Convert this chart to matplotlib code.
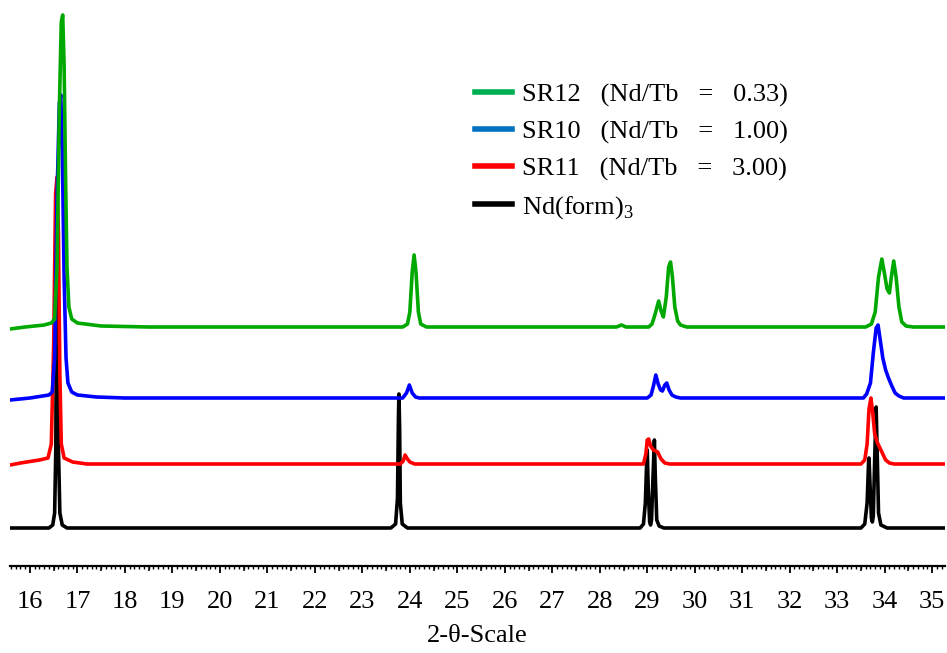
import matplotlib.pyplot as plt
from matplotlib.ticker import MultipleLocator
from matplotlib.lines import Line2D

plt.rcParams['font.family'] = ['Liberation Serif', 'DejaVu Serif']
plt.rcParams['mathtext.fontset'] = 'custom'
plt.rcParams['mathtext.rm'] = 'Liberation Serif'

# XRD patterns: 2-theta and intensity above each trace's own baseline
nd_x = [15.58, 16.40, 16.48, 16.52, 16.545, 16.56, 16.57, 16.585, 16.60, 16.63, 16.68, 16.78,
        23.60, 23.70, 23.74, 23.76, 23.77, 23.785, 23.80, 23.84, 23.95,
        28.85, 28.92, 28.96, 28.99, 29.00, 29.02, 29.05, 29.07, 29.09, 29.12, 29.15, 29.17, 29.20, 29.25, 29.35,
        33.50, 33.58, 33.63, 33.66, 33.67, 33.69, 33.72, 33.74, 33.76, 33.79, 33.82, 33.84, 33.87, 33.92, 34.05, 35.27]
nd_y = [0, 0, 3, 15, 80, 250, 325, 250, 80, 15, 3, 0,
        0, 4, 30, 110, 134, 100, 25, 4, 0,
        0, 4, 25, 70, 78, 40, 6, 3, 8, 50, 88, 50, 8, 2, 0,
        0, 4, 25, 65, 70, 45, 10, 6, 12, 70, 121, 80, 15, 3, 0, 0]

sr11_x = [15.58, 15.80, 16.20, 16.38, 16.45, 16.50, 16.54, 16.57, 16.60, 16.63, 16.66, 16.72, 16.90, 17.20,
          23.80, 23.86, 23.90, 23.95, 24.00, 24.10,
          28.92, 28.97, 29.00, 29.03, 29.07, 29.13, 29.22, 29.29, 29.37, 29.47,
          33.50, 33.58, 33.63, 33.67, 33.71, 33.75, 33.79, 33.84, 33.90, 33.96, 34.02, 34.10, 34.20, 35.27]
sr11_y = [-1, 1, 4, 6, 20, 120, 270, 287, 230, 90, 20, 6, 2, 0,
          0, 3, 9, 5, 2, 0,
          0, 10, 24, 25, 18, 14, 12, 5, 1, 0,
          0, 4, 20, 55, 66, 50, 30, 22, 16, 10, 4, 1, 0, 0]

sr10_x = [15.58, 16.00, 16.40, 16.47, 16.52, 16.57, 16.62, 16.65, 16.68, 16.72, 16.76, 16.80, 16.88, 17.00, 17.40, 18.00,
          23.85, 23.93, 23.99, 24.05, 24.12, 24.20,
          29.00, 29.08, 29.13, 29.18, 29.23, 29.28, 29.32, 29.37, 29.41, 29.46, 29.52, 29.60, 29.70,
          33.55, 33.62, 33.70, 33.76, 33.82, 33.86, 33.90, 33.96, 34.02, 34.08, 34.15, 34.22, 34.30, 34.40, 35.27]
sr10_y = [-2, 0, 3, 6, 40, 200, 295, 303, 250, 120, 40, 15, 6, 3, 1, 0,
          0, 5, 13, 5, 1, 0,
          0, 3, 12, 23, 14, 8, 7, 13, 15, 8, 3, 1, 0,
          0, 4, 15, 45, 70, 73, 60, 40, 28, 20, 12, 5, 2, 0, 0]

sr12_x = [15.58, 15.90, 16.30, 16.45, 16.52, 16.57, 16.62, 16.66, 16.69, 16.72, 16.75, 16.78, 16.82, 16.88, 17.00, 17.50, 18.50,
          23.85, 23.95, 24.00, 24.05, 24.09, 24.13, 24.18, 24.23, 24.35,
          28.35, 28.46, 28.55,
          29.03, 29.10, 29.16, 29.24, 29.29, 29.34, 29.40, 29.45, 29.49, 29.53, 29.58, 29.64, 29.70, 29.83,
          33.60, 33.72, 33.80, 33.87, 33.94, 33.99, 34.05, 34.10, 34.14, 34.19, 34.24, 34.30, 34.36, 34.45, 34.60, 35.27]
sr12_y = [-2, 0, 2, 4, 8, 60, 220, 305, 312, 260, 150, 60, 20, 8, 4, 1, 0,
          0, 3, 15, 55, 72, 55, 15, 3, 0,
          0, 2, 0,
          0, 3, 12, 26, 16, 10, 30, 60, 65, 50, 20, 6, 2, 0,
          0, 3, 15, 50, 68, 55, 38, 34, 50, 66, 50, 20, 5, 1, 0, 0]

offsets = [0, 64, 130, 201]
line_colors = ['black', '#ff0000', '#0000ff', '#00a800']
legend_colors = ['#00b050', '#0070c0', '#ff0000', 'black']
legend_labels = ['SR12   (Nd/Tb   =   0.33)', 'SR10   (Nd/Tb   =   1.00)',
                 'SR11   (Nd/Tb   =   3.00)', 'Nd(form)$_3$']

fig = plt.figure(figsize=(9.47, 6.53), dpi=100)
ax = fig.add_axes([10 / 947, 87 / 653, 935 / 947, 566 / 653])

series = [(nd_x, nd_y), (sr11_x, sr11_y), (sr10_x, sr10_y), (sr12_x, sr12_y)]
for (xs, ys), off, c in zip(series, offsets, line_colors):
    ax.plot(xs, [v + off for v in ys], color=c, lw=2.6, solid_joinstyle='round')

ax.set_xlim(15.58, 35.27)
ax.set_ylim(-38, 528)
for s in ['left', 'right', 'top']:
    ax.spines[s].set_visible(False)
ax.spines['bottom'].set_linewidth(1.6)
ax.set_yticks([])
ax.xaxis.set_major_locator(MultipleLocator(1))
ax.xaxis.set_minor_locator(MultipleLocator(0.1))
ax.tick_params(axis='x', which='major', length=5, width=1.3, labelsize=19, pad=13)
ax.tick_params(axis='x', which='minor', length=2.2, width=1.0)
ax.set_xlabel('2-θ-Scale', fontsize=19, labelpad=9)

# medium ticks at the half degrees
ax2 = ax.twiny()
ax2.set_xlim(ax.get_xlim())
ax2.xaxis.set_ticks_position('bottom')
ax2.xaxis.set_major_locator(MultipleLocator(1, offset=0.5))
ax2.tick_params(axis='x', which='major', length=3.6, width=1.1, labelbottom=False, labeltop=False)
ax2.set_yticks([])
for s in ax2.spines.values():
    s.set_visible(False)

handles = [Line2D([], [], color=c, lw=4) for c in legend_colors]
ax.legend(handles, legend_labels, loc='upper left', bbox_to_anchor=(0.472, 0.896),
          frameon=False, fontsize=19, handlelength=1.4, handletextpad=0.38,
          labelspacing=0.5)

fig.savefig('out.png', dpi=100)
